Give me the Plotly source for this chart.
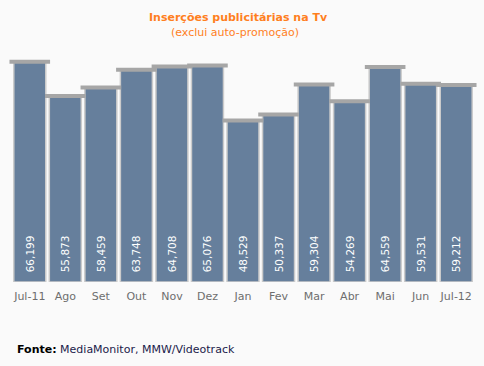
import plotly.graph_objects as go

months = ["Jul-11", "Ago", "Set", "Out", "Nov", "Dez", "Jan", "Fev", "Mar", "Abr", "Mai", "Jun", "Jul-12"]
values = [66199, 55873, 58459, 63748, 64708, 65076, 48529, 50337, 59304, 54269, 64559, 59531, 59212]
labels = ["\u00a0\u00a0" + f"{v:,}" for v in values]

BAR = "#667f9c"
FONT = "DejaVu Sans"

fig = go.Figure()
fig.add_trace(go.Bar(
    x=months, y=values,
    marker=dict(color=BAR, line=dict(color="#cbcbcb", width=1.5)),
    text=labels, textposition="inside", insidetextanchor="start", textangle=-90,
    textfont=dict(family=FONT, size=10.5, color="#ffffff"),
    hoverinfo="skip",
))
fig.add_trace(go.Scatter(
    x=months, y=values, mode="markers", cliponaxis=False,
    marker=dict(symbol="line-ew-open", size=29, color="#a6a6a6",
                line=dict(color="#a6a6a6", width=4)),
    hoverinfo="skip",
))

fig.update_layout(
    width=484, height=366,
    margin=dict(l=12, r=10, t=50, b=84, autoexpand=False),
    paper_bgcolor="#fafafa", plot_bgcolor="#fafafa",
    showlegend=False, bargap=0.1,
    font=dict(family=FONT, size=11, color="#666666"),
    xaxis=dict(range=[-0.5, 12.5], autorange=False, automargin=False,
               showgrid=False, showline=False, zeroline=False, ticks="",
               ticklabelstandoff=6,
               tickfont=dict(family=FONT, size=11, color="#6e6e6e")),
    yaxis=dict(range=[0, 69700], autorange=False, automargin=False,
               visible=False, showgrid=False, zeroline=False),
    annotations=[
        dict(text="<b>Inserções publicitárias na Tv</b>", xref="paper", yref="paper",
             x=0.49, y=1, yshift=33, showarrow=False, yanchor="middle",
             font=dict(family=FONT, size=11, color="#ff7f1e")),
        dict(text="(exclui auto-promoção)", xref="paper", yref="paper",
             x=0.483, y=1, yshift=18, showarrow=False, yanchor="middle",
             font=dict(family=FONT, size=11, color="#ff7f1e")),
        dict(text="<b>Fonte:</b> <span style='color:#1a1a4a'>MediaMonitor, MMW/Videotrack</span>",
             xref="paper", yref="paper", x=0, xshift=3, y=0, yshift=-67,
             xanchor="left", yanchor="middle", showarrow=False,
             font=dict(family=FONT, size=11, color="#000000")),
    ],
)

fig.write_html("out.html", config={"displayModeBar": False},
               post_script="document.body.style.margin='0';document.body.style.background='#fafafa';")
